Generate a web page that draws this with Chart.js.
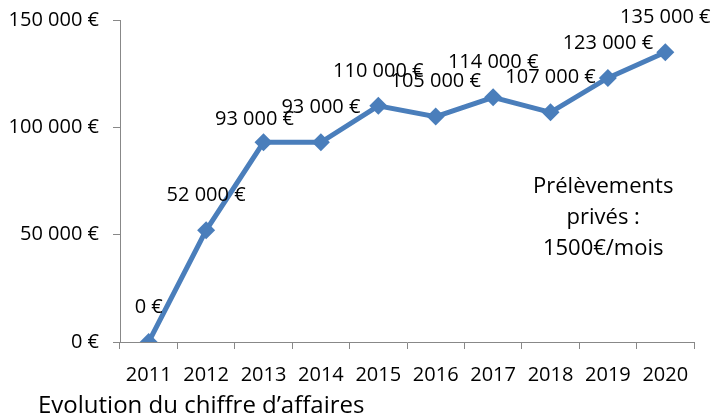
<!DOCTYPE html>
<html>
<head>
<meta charset="utf-8">
<script src="https://cdn.jsdelivr.net/npm/chart.js@4/dist/chart.umd.min.js"></script>
<style>
  html, body { margin: 0; padding: 0; background: #fff; }
  #wrap { width: 714px; height: 417px; }
</style>
</head>
<body>
<div id="wrap"><canvas id="ca-chart" width="714" height="417"></canvas></div>
<script>
const years = ["2011", "2012", "2013", "2014", "2015", "2016", "2017", "2018", "2019", "2020"];
const revenue = [0, 52000, 93000, 93000, 110000, 105000, 114000, 107000, 123000, 135000];
const yTicks = [0, 50000, 100000, 150000];
const chartTitle = "Evolution du chiffre d\u2019affaires";
const noteLines = ["Prélèvements", "privés :", "1500€/mois"];

const FONT = "'Open Sans', sans-serif";
const BLUE = "#4a7ebb";

function euro(v) {
  return String(v).replace(/\B(?=(\d{3})+(?!\d))/g, " ") + " €";
}

// value labels above each point, side note and bottom title
const labelsPlugin = {
  id: "labels",
  afterDatasetsDraw(chart) {
    const ctx = chart.ctx;
    const pts = chart.getDatasetMeta(0).data;
    ctx.save();
    ctx.fillStyle = "#000";
    ctx.font = "20px " + FONT;
    ctx.textAlign = "center";
    ctx.textBaseline = "middle";
    pts.forEach((pt, i) => {
      let dx = 0, dy = 0;
      // flat segment: pull the first label aside so both stay readable
      const next = pts[i + 1];
      if (next && Math.abs(next.y - pt.y) < 4) { dx = -9; dy = 12; }
      ctx.fillText(euro(revenue[i]), pt.x + dx, pt.y - 35 + dy);
    });

    ctx.font = "22px " + FONT;
    const xs = chart.scales.x, ys = chart.scales.y;
    const cx = (xs.getPixelForValue(7) + xs.getPixelForValue(8)) / 2 + 24;
    const cy = ys.getPixelForValue(58000);
    noteLines.forEach((t, i) => ctx.fillText(t, cx, cy + (i - 1) * 31));

    ctx.font = "24px " + FONT;
    ctx.textAlign = "left";
    ctx.fillText(chartTitle, 38, chart.height - 11);
    ctx.restore();
  }
};

const ctx = document.getElementById("ca-chart").getContext("2d");
const caChart = new Chart(ctx, {
  type: "line",
  data: {
    labels: years,
    datasets: [
      {
        data: revenue,
        borderColor: BLUE,
        backgroundColor: BLUE,
        borderWidth: 5,
        tension: 0,
        pointStyle: "rectRot",
        pointRadius: 9,
        pointHoverRadius: 9,
        pointBackgroundColor: BLUE,
        pointBorderWidth: 0,
      },
    ],
  },
  options: {
    responsive: false,
    animation: false,
    layout: {
      padding: { top: 20, right: 20, left: 0, bottom: 30 },
    },
    scales: {
      x: {
        offset: true,
        grid: {
          offset: true,
          drawOnChartArea: false,
          drawTicks: true,
          tickLength: 7,
          color: "#888",
        },
        border: { color: "#888", width: 1 },
        ticks: {
          color: "#000",
          padding: 14,
          maxRotation: 0,
          font: { family: FONT, size: 20 },
        },
        afterFit(scale) {
          scale.height = 45;
          scale.paddingLeft = 0;
          scale.paddingRight = 0;
        },
      },
      y: {
        min: 0,
        max: 150000,
        afterBuildTicks(scale) {
          scale.ticks = yTicks.map((v) => ({ value: v }));
        },
        grid: {
          drawOnChartArea: false,
          drawTicks: true,
          tickLength: 7,
          color: "#888",
        },
        border: { color: "#888", width: 1 },
        ticks: {
          color: "#000",
          padding: 14,
          font: { family: FONT, size: 20 },
          callback: (v) => euro(v),
        },
        afterFit(scale) {
          scale.width = 120;
          scale.paddingTop = 0;
          scale.paddingBottom = 0;
        },
      },
    },
    plugins: {
      legend: { display: false },
      tooltip: { enabled: false },
      title: { display: false },
    },
  },
  plugins: [labelsPlugin],
});
</script>
</body>
</html>
